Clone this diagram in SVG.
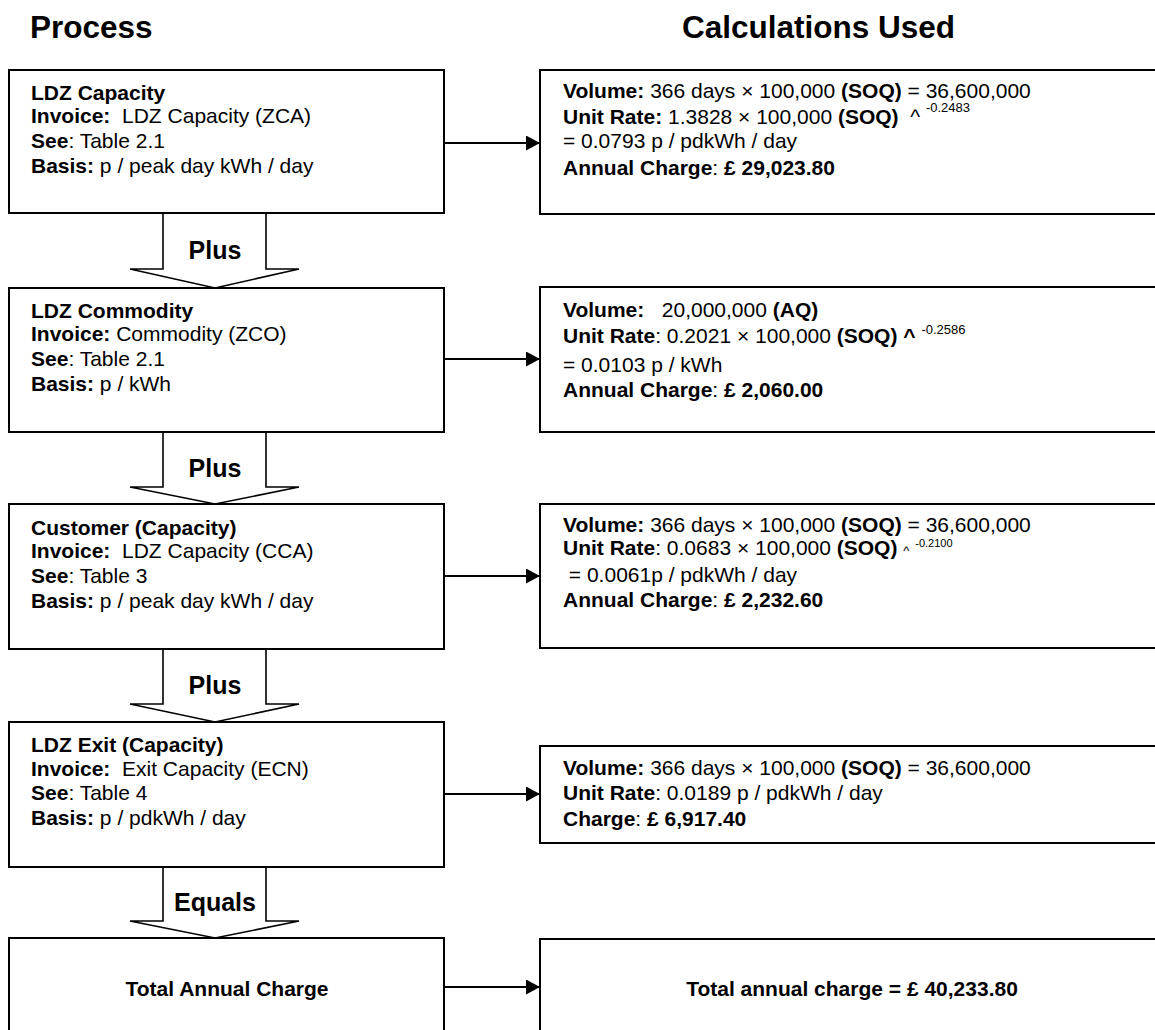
<svg xmlns="http://www.w3.org/2000/svg" width="1155" height="1030" viewBox="0 0 1155 1030">
<defs>
<style>
text{font-family:"Liberation Sans",Arial,sans-serif;font-size:21px;fill:#000;white-space:pre}
.b{font-weight:bold}
.title{font-size:31.5px;font-weight:bold}
.lbl{font-size:25px;font-weight:bold;text-anchor:middle}
.mid{text-anchor:middle;font-weight:bold}
.box{fill:#fff;stroke:#000;stroke-width:2}
.blk{fill:#fff;stroke:#000;stroke-width:1.6;stroke-linejoin:miter}
.con{stroke:#000;stroke-width:2;fill:none}
.sup{font-size:13px}
</style>
<marker id="ah" viewBox="0 0 14 15" refX="14" refY="7.5" markerWidth="14" markerHeight="15" markerUnits="userSpaceOnUse" orient="auto">
<path d="M0,0 L14,7.5 L0,15 Z" fill="#000"/>
</marker>
</defs>
<rect width="1155" height="1030" fill="#fff"/>
<g id="titles">
<text class="title" x="30" y="38">Process</text>
<text class="title" x="682" y="38">Calculations Used</text>
</g>
<g id="connectors">
<polygon class="blk" points="163,213 266,213 266,269 299,269 215,288 130,269 163,269"/>
<polygon class="blk" points="163,432 266,432 266,487 299,487 215,504 130,487 163,487"/>
<polygon class="blk" points="163,649 266,649 266,704 299,704 215,722 130,704 163,704"/>
<polygon class="blk" points="163,867 266,867 266,921 299,921 215,938 130,921 163,921"/>
<text class="lbl" x="215" y="259">Plus</text>
<text class="lbl" x="215" y="477">Plus</text>
<text class="lbl" x="215" y="694">Plus</text>
<text class="lbl" x="215" y="911">Equals</text>
<line class="con" x1="444" y1="143" x2="540" y2="143" marker-end="url(#ah)"/>
<line class="con" x1="444" y1="359" x2="540" y2="359" marker-end="url(#ah)"/>
<line class="con" x1="444" y1="576" x2="540" y2="576" marker-end="url(#ah)"/>
<line class="con" x1="444" y1="794" x2="540" y2="794" marker-end="url(#ah)"/>
<line class="con" x1="444" y1="987" x2="540" y2="987" marker-end="url(#ah)"/>
</g>
<g id="ldz-capacity">
<rect class="box" x="9" y="70" width="435" height="143"/>
<text x="31" y="100" class="b">LDZ Capacity</text>
<text x="31" y="123"><tspan class="b">Invoice:</tspan>  LDZ Capacity (ZCA)</text>
<text x="31" y="148"><tspan class="b">See</tspan>: Table 2.1</text>
<text x="31" y="173"><tspan class="b">Basis:</tspan> p / peak day kWh / day</text>
</g>
<g id="ldz-capacity-calc">
<rect class="box" x="540" y="70" width="640" height="144"/>
<text x="563" y="98"><tspan class="b">Volume:</tspan> 366 days × 100,000 <tspan class="b">(SOQ)</tspan> = 36,600,000</text>
<text x="563" y="124"><tspan class="b">Unit Rate:</tspan> 1.3828 × 100,000 <tspan class="b">(SOQ)</tspan>  ^ <tspan class="sup" dy="-12">-0.2483</tspan></text>
<text x="563" y="148">= 0.0793 p / pdkWh / day</text>
<text x="563" y="175"><tspan class="b">Annual Charge</tspan>: <tspan class="b">£ 29,023.80</tspan></text>
</g>
<g id="ldz-commodity">
<rect class="box" x="9" y="288" width="435" height="144"/>
<text x="31" y="318" class="b">LDZ Commodity</text>
<text x="31" y="341"><tspan class="b">Invoice:</tspan> Commodity (ZCO)</text>
<text x="31" y="366"><tspan class="b">See</tspan>: Table 2.1</text>
<text x="31" y="391"><tspan class="b">Basis:</tspan> p / kWh</text>
</g>
<g id="ldz-commodity-calc">
<rect class="box" x="540" y="287" width="640" height="145"/>
<text x="563" y="317"><tspan class="b">Volume:</tspan>   20,000,000 <tspan class="b">(AQ)</tspan></text>
<text x="563" y="343"><tspan class="b">Unit Rate</tspan>: 0.2021 × 100,000 <tspan class="b">(SOQ)</tspan> <tspan class="b">^</tspan> <tspan class="sup" dy="-9">-0.2586</tspan></text>
<text x="563" y="372">= 0.0103 p / kWh</text>
<text x="563" y="397"><tspan class="b">Annual Charge</tspan>: <tspan class="b">£ 2,060.00</tspan></text>
</g>
<g id="customer-capacity">
<rect class="box" x="9" y="504" width="435" height="145"/>
<text x="31" y="535" class="b">Customer (Capacity)</text>
<text x="31" y="558"><tspan class="b">Invoice:</tspan>  LDZ Capacity (CCA)</text>
<text x="31" y="583"><tspan class="b">See</tspan>: Table 3</text>
<text x="31" y="608"><tspan class="b">Basis:</tspan> p / peak day kWh / day</text>
</g>
<g id="customer-capacity-calc">
<rect class="box" x="540" y="504" width="640" height="144"/>
<text x="563" y="532"><tspan class="b">Volume:</tspan> 366 days × 100,000 <tspan class="b">(SOQ)</tspan> = 36,600,000</text>
<text x="563" y="555"><tspan class="b">Unit Rate</tspan>: 0.0683 × 100,000 <tspan class="b">(SOQ)</tspan> <tspan class="sup">^</tspan> <tspan style="font-size:11px" dy="-8">-0.2100</tspan></text>
<text x="563" y="582"> = 0.0061p / pdkWh / day</text>
<text x="563" y="607"><tspan class="b">Annual Charge</tspan>: <tspan class="b">£ 2,232.60</tspan></text>
</g>
<g id="ldz-exit">
<rect class="box" x="9" y="722" width="435" height="145"/>
<text x="31" y="752" class="b">LDZ Exit (Capacity)</text>
<text x="31" y="776"><tspan class="b">Invoice:</tspan>  Exit Capacity (ECN)</text>
<text x="31" y="800"><tspan class="b">See</tspan>: Table 4</text>
<text x="31" y="825"><tspan class="b">Basis:</tspan> p / pdkWh / day</text>
</g>
<g id="ldz-exit-calc">
<rect class="box" x="540" y="746" width="640" height="97"/>
<text x="563" y="775"><tspan class="b">Volume:</tspan> 366 days × 100,000 <tspan class="b">(SOQ)</tspan> = 36,600,000</text>
<text x="563" y="800"><tspan class="b">Unit Rate</tspan>: 0.0189 p / pdkWh / day</text>
<text x="563" y="826"><tspan class="b">Charge</tspan>: <tspan class="b">£ 6,917.40</tspan></text>
</g>
<g id="total">
<rect class="box" x="9" y="938" width="435" height="120"/>
<text class="mid" x="227" y="996">Total Annual Charge</text>
</g>
<g id="total-calc">
<rect class="box" x="540" y="939" width="640" height="120"/>
<text class="mid" x="852" y="996">Total annual charge = £ 40,233.80</text>
</g>
</svg>
